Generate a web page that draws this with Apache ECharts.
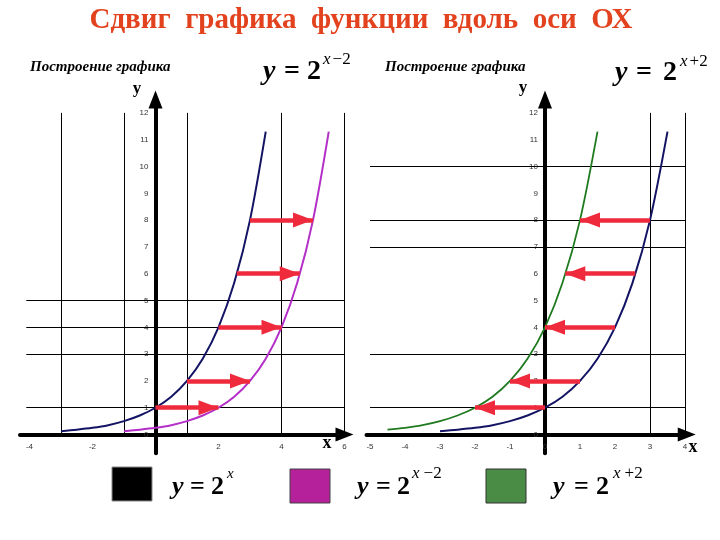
<!DOCTYPE html>
<html><head><meta charset="utf-8">
<script src="https://cdn.jsdelivr.net/npm/echarts@6/dist/echarts.min.js"></script>
<style>html,body{margin:0;padding:0;background:#fff}#c{width:720px;height:540px}</style>
</head><body><div id="c"></div>
<script>
// ---- data ----
const leftXTicks = [-4, -2, 2, 4, 6];
const rightXTicks = [-5, -4, -3, -2, -1, 0, 1, 2, 3, 4];
const yTicks = [0, 1, 2, 3, 4, 5, 6, 7, 8, 9, 10, 11, 12];

const leftVGrid = [-3, -1, 1, 4, 6];
const leftHGrid = [1, 3, 4, 5];
const rightVGrid = [3, 4];
const rightHGrid = [1, 3, 7, 8, 10];

// y = 2^x (left panel)
const curveBaseLeft = [[-3,0.125],[-2.5,0.18],[-2,0.25],[-1.5,0.35],[-1,0.5],[-0.5,0.71],[0,1],[0.5,1.41],[1,2],[1.5,2.83],[2,4],[2.5,5.66],[3,8],[3.5,11.3]];
// y = 2^(x-2)
const curveShiftRight = [[-1,0.125],[-0.5,0.18],[0,0.25],[0.5,0.35],[1,0.5],[1.5,0.71],[2,1],[2.5,1.41],[3,2],[3.5,2.83],[4,4],[4.5,5.66],[5,8],[5.5,11.3]];
// y = 2^x (right panel)
const curveBaseRight = [[-3,0.125],[-2.5,0.18],[-2,0.25],[-1.5,0.35],[-1,0.5],[-0.5,0.71],[0,1],[0.5,1.41],[1,2],[1.5,2.83],[2,4],[2.5,5.66],[3,8],[3.5,11.3]];
// y = 2^(x+2)
const curveShiftLeft = [[-4.5,0.18],[-4,0.25],[-3.5,0.35],[-3,0.5],[-2.5,0.71],[-2,1],[-1.5,1.41],[-1,2],[-0.5,2.83],[0,4],[0.5,5.66],[1,8],[1.5,11.3]];
// arrows: [x1, y1, x2, y2]
const leftArrows = [[0,1,2,1],[1,2,3,2],[2,4,4,4],[2.58,6,4.58,6],[3,8,5,8]];
const rightArrows = [[0,1,-2,1],[1,2,-1,2],[2,4,0,4],[2.58,6,0.58,6],[3,8,1,8]];

// ---- drawing ----
const chart = echarts.init(document.getElementById('c'));
const SERIF = '"Liberation Serif","Times New Roman",serif';

function gridLines(vals, vertical, from, to, xi) {
  return {
    type: 'lines', coordinateSystem: 'cartesian2d', xAxisIndex: xi, yAxisIndex: xi,
    silent: true, z: 1,
    lineStyle: {color: '#000', width: 1, opacity: 1},
    data: vals.map(v => ({coords: vertical ? [[v, from], [v, to]] : [[from, v], [to, v]]}))
  };
}
function arrows(list, xi) {
  return {
    type: 'line', xAxisIndex: xi, yAxisIndex: xi, data: [], silent: true, z: 5,
    markLine: {
      silent: true, animation: false,
      symbol: ['none', 'triangle'], symbolSize: [15, 20], symbolOffset: [[0,0],[0,10]],
      label: {show: false},
      lineStyle: {type: 'solid', color: '#ee2a3c', width: 4.5, opacity: 1},
      emphasis: {disabled: true},
      data: list.map(a => [{coord: [a[0], a[1]]}, {coord: [a[2], a[3]]}])
    }
  };
}
function curve(d, color, w, xi) {
  return {type: 'line', xAxisIndex: xi, yAxisIndex: xi, data: d, smooth: 0.3, showSymbol: false,
    silent: true, z: 3, lineStyle: {color: color, width: w}};
}
const axisLineStyle = {show: true, onZero: false, symbol: ['none', 'triangle'], symbolSize: [14, 18],
  lineStyle: {color: '#000', width: 4}};

function xAxis(min, max, ticks, gi) {
  return {type: 'value', gridIndex: gi, min: min, max: max, position: 'bottom', offset: -18.8,
    axisLine: axisLineStyle, axisTick: {show: false}, splitLine: {show: false},
    axisLabel: {customValues: ticks, margin: 8, fontSize: 8, color: '#333', fontFamily: 'Arial'}};
}
function yAxis(gi, off) {
  return {type: 'value', gridIndex: gi, min: -0.7, max: 12.5, position: 'left', offset: off,
    axisLine: axisLineStyle, axisTick: {show: false}, splitLine: {show: false},
    axisLabel: {customValues: yTicks, margin: 7, fontSize: 8, color: '#333', fontFamily: 'Arial'}};
}

function formula(size, px, yMain) {
  const t = (s, x, y, f) => ({type: 'text', x: x, y: y, style: {text: s, font: f, fill: '#000', verticalAlign: 'middle'}});
  return [
    t('y', px[0], yMain, 'italic bold ' + size + 'px ' + SERIF),
    t('=', px[1], yMain, 'bold ' + size + 'px ' + SERIF),
    t('2', px[2], yMain, 'bold ' + size + 'px ' + SERIF)
  ];
}
function sup(rich, x, y, ssize, pad) {
  return {type: 'text', x: x, y: y, style: {text: rich, verticalAlign: 'middle',
    rich: {a: {font: 'italic ' + ssize + 'px ' + SERIF, fill: '#000'}, b: {font: ssize + 'px ' + SERIF, fill: '#000', padding: [0, 0, 0, pad || 2]}}}};
}
function plain(t, x, y, font, color, align) {
  return {type: 'text', x: x, y: y, style: {text: t, font: font, fill: color || '#000', align: align || 'left', verticalAlign: 'middle'}};
}

const graphics = [
  plain('Сдвиг  графика  функции  вдоль  оси  ОХ', 361, 21, 'bold 29px ' + SERIF, '#e3421e', 'center'),
  plain('Построение графика', 30, 67, 'italic bold 15px ' + SERIF),
  plain('Построение графика', 385, 67, 'italic bold 15px ' + SERIF),
  ...formula(28, [263, 284, 307], 72),
  sup('{a|x}{b|−2}', 323, 60, 17),
  ...formula(28, [615, 636, 663], 73),
  sup('{a|x}{b|+2}', 680, 62, 17),
  plain('y', 137, 89, 'bold 17px ' + SERIF, '#000', 'center'),
  plain('x', 327, 443, 'bold 18px ' + SERIF, '#000', 'center'),
  plain('y', 523, 88, 'bold 17px ' + SERIF, '#000', 'center'),
  plain('x', 693, 447, 'bold 18px ' + SERIF, '#000', 'center'),
  {type: 'rect', shape: {x: 112, y: 467, width: 40, height: 34}, style: {fill: '#000', stroke: '#888', lineWidth: 1}},
  {type: 'rect', shape: {x: 290, y: 469, width: 40, height: 34}, style: {fill: '#b5219a', stroke: '#444', lineWidth: 1}},
  {type: 'rect', shape: {x: 486, y: 469, width: 40, height: 34}, style: {fill: '#4a8c45', stroke: '#333', lineWidth: 1}},
  ...formula(26, [172, 190, 211], 487),
  sup('{a|x}', 227, 474, 15),
  ...formula(26, [357, 376, 397], 487),
  sup('{a|x}{b|−2}', 412, 474, 17, 4),
  ...formula(26, [553, 574, 596], 487),
  sup('{a|x}{b|+2}', 613, 474, 17, 4)
];

chart.setOption({
  animation: false,
  backgroundColor: '#fff',
  grid: [
    {left: 20, top: 99.5, width: 324.5, height: 353.8},
    {left: 366.5, top: 99.5, width: 320.25, height: 353.8}
  ],
  xAxis: [xAxis(-4.3, 6, leftXTicks, 0), xAxis(-5.1, 4.05, rightXTicks, 1)],
  yAxis: [yAxis(0, -135.5), yAxis(1, -178.5)],
  series: [
    gridLines(leftVGrid, true, 0, 12, 0),
    gridLines(leftHGrid, false, -4.1, 6, 0),
    gridLines(rightVGrid, true, 0, 12, 1),
    gridLines(rightHGrid, false, -5, 4, 1),
    curve(curveBaseLeft, '#141464', 2, 0),
    curve(curveShiftRight, '#b42ec8', 2, 0),
    curve(curveBaseRight, '#141464', 2, 1),
    curve(curveShiftLeft, '#1f7a1f', 1.8, 1),
    arrows(leftArrows, 0),
    arrows(rightArrows, 1)
  ],
  graphic: graphics
});
</script></body></html>
